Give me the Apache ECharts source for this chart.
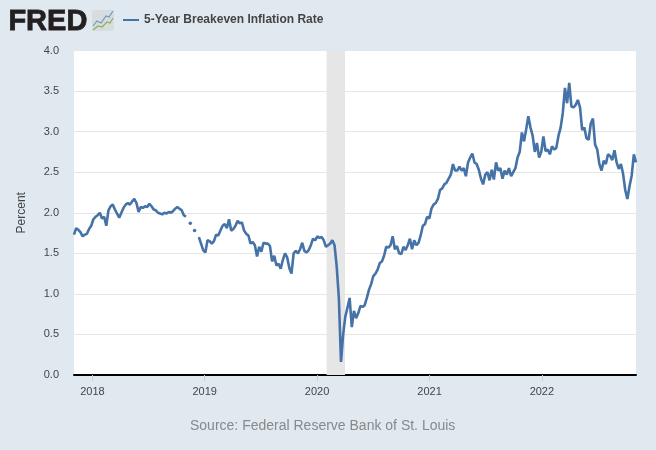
<!DOCTYPE html>
<html>
<head>
<meta charset="utf-8">
<style>html,body{margin:0;padding:0;background:#e1e9f0}#c{width:656px;height:450px}</style>
<script src="https://cdn.jsdelivr.net/npm/echarts@6/dist/echarts.min.js"></script>
</head>
<body>
<div id="c"></div>
<script>
const seriesName = '5-Year Breakeven Inflation Rate';
const startDate = '2017-11-02';
const endDate = '2022-11-03';
const recessionStart = '2020-02-01';
const recessionEnd = '2020-04-01';
const yearTicks = ['2018-01-01','2019-01-01','2020-01-01','2021-01-01','2022-01-01'];
const values2017_18 = [1.73,1.81,1.79,1.76,1.71,1.73,1.74,1.80,1.84,1.92,1.95,1.97,2.00,1.93,1.95,1.84,2.03,2.08,2.10,2.04,1.99,1.94,2.00,2.06,2.10,2.12,2.10,2.14,2.17,2.12,2.01,2.07,2.06,2.08,2.07,2.11,2.08,2.04,2.03,2.00,1.99,1.98,2.00,1.99,2.01,2.00,2.02,2.05,2.07,2.05,2.03,1.97,1.95,null,1.87,null,1.78,null];
const values2019 = [1.70,1.62,1.54,1.51,1.66,1.65,1.62,1.65,1.73,1.72,1.78,1.84,1.86,1.81,1.92,1.78,1.80,1.84,1.90,1.87,1.88,1.78,1.74,1.72,1.62,1.64,1.60,1.46,1.58,1.52,1.63,1.62,1.62,1.59,1.40,1.47,1.35,1.37,1.31,1.42,1.50,1.45,1.32,1.25,1.50,1.53,1.50,1.55,1.63,1.53,1.51,1.54,1.60,1.68,1.66,1.71,1.69,1.70,1.66];
const values2020 = [1.58,1.60,1.62,1.66,1.60,1.34,0.95,0.16,0.50,0.72,0.83,0.95,0.59,0.79,0.70,0.76,0.85,0.84,0.86,0.95,1.05,1.12,1.22,1.25,1.30,1.38,1.40,1.47,1.58,1.57,1.60,1.71,1.55,1.59,1.50,1.49,1.58,1.54,1.60,1.68,1.55,1.66,1.60,1.63,1.72,1.84,1.86,1.95,1.93];
const values2021 = [2.05,2.10,2.12,2.17,2.28,2.30,2.35,2.37,2.42,2.47,2.60,2.52,2.52,2.57,2.52,2.55,2.45,2.62,2.68,2.73,2.62,2.60,2.53,2.42,2.35,2.47,2.50,2.40,2.53,2.41,2.62,2.52,2.55,2.42,2.52,2.47,2.55,2.45,2.50,2.55,2.68,2.75,2.99,2.88,3.03,3.19,3.05,2.95,2.75,2.86,2.68];
const values2022 = [2.75,2.94,2.76,2.78,2.72,2.82,2.78,2.80,2.95,3.05,3.23,3.54,3.35,3.60,3.31,3.30,3.33,3.39,3.30,3.02,3.05,2.92,2.90,3.10,3.16,2.84,2.78,2.60,2.52,2.64,2.60,2.72,2.70,2.65,2.77,2.62,2.54,2.60,2.48,2.28,2.17,2.33,2.46,2.72,2.62];
const values = [...values2017_18, ...values2019, ...values2020, ...values2021, ...values2022];
const dayMs = 86400000;
const ms = d => Date.parse(d + 'T00:00:00Z');
const t0 = ms(startDate);
const data = values.map((v, i) => [t0 + i * 7 * dayMs, v]);
const isolated = i => values[i] != null && values[i - 1] == null && values[i + 1] == null;
const yearMs = yearTicks.map(ms);

const chart = echarts.init(document.getElementById('c'), null, {renderer: 'canvas'});
chart.setOption({
  animation: false,
  backgroundColor: '#e1e9f0',
  textStyle: {fontFamily: '"Liberation Sans", Arial, sans-serif'},
  title: {
    text: 'Source: Federal Reserve Bank of St. Louis',
    left: 185, top: 414,
    textStyle: {color: '#888888', fontSize: 14, fontWeight: 'normal'}
  },
  legend: {
    left: 118, top: 9,
    itemWidth: 16, itemHeight: 2, itemGap: 4,
    icon: 'rect',
    textStyle: {color: '#444444', fontSize: 12, fontWeight: 'bold'},
    data: [seriesName]
  },
  grid: {left: 74, right: 20, top: 50.5, bottom: 75, show: true, backgroundColor: '#ffffff', borderWidth: 0},
  xAxis: {
    type: 'value',
    min: ms(startDate),
    max: ms(endDate),
    splitLine: {show: false},
    axisLine: {show: true, onZero: false, lineStyle: {color: '#000000', width: 2}},
    axisTick: {show: true, length: 6, lineStyle: {color: '#c0d0e0', width: 1}, customValues: yearMs},
    axisLabel: {
      color: '#444444', fontSize: 11, margin: 11,
      customValues: yearMs,
      formatter: v => String(new Date(v).getUTCFullYear())
    }
  },
  yAxis: {
    type: 'value', min: 0, max: 4, interval: 0.5,
    name: 'Percent', nameLocation: 'middle', nameGap: 46,
    nameTextStyle: {color: '#444444', fontSize: 12},
    axisLine: {show: false}, axisTick: {show: false},
    splitLine: {lineStyle: {color: '#e6e6e6', width: 1}},
    axisLabel: {color: '#444444', fontSize: 11, margin: 15, padding: [2, 0, 0, 0], formatter: v => v.toFixed(1)}
  },
  series: [{
    name: seriesName,
    type: 'line',
    data,
    connectNulls: false,
    smooth: false,
    showSymbol: true,
    showAllSymbol: true,
    symbol: 'circle',
    symbolSize: (v, p) => isolated(p.dataIndex) ? 3.5 : 0,
    color: '#4572a7',
    itemStyle: {color: '#4572a7'},
    lineStyle: {color: '#4572a7', width: 2.6},
    markArea: {
      silent: true,
      itemStyle: {color: '#e6e6e6', opacity: 1},
      data: [[{xAxis: ms(recessionStart)}, {xAxis: ms(recessionEnd)}]]
    }
  }],
  graphic: [
    {type: 'text', left: 8, top: 7, style: {text: 'FRED', fontFamily: '"Liberation Sans", Arial, sans-serif', fontWeight: 'bold', fontSize: 29, fill: '#231f20', stroke: '#231f20', lineWidth: 0.8}},
    {type: 'rect', shape: {x: 92, y: 10, width: 22, height: 21, r: 2}, style: {fill: '#d7dcdf'}},
    {type: 'polyline', shape: {points: [[93, 26], [97, 21], [101, 23], [106, 16], [109, 17], [113, 11]]}, style: {stroke: '#6f9ac2', fill: 'none', lineWidth: 1.2}},
    {type: 'polyline', shape: {points: [[93, 30], [98, 26], [102, 27], [107, 22], [110, 23], [113, 18]]}, style: {stroke: '#8cb05a', fill: 'none', lineWidth: 1.2}}
  ]
});
</script>
</body>
</html>
